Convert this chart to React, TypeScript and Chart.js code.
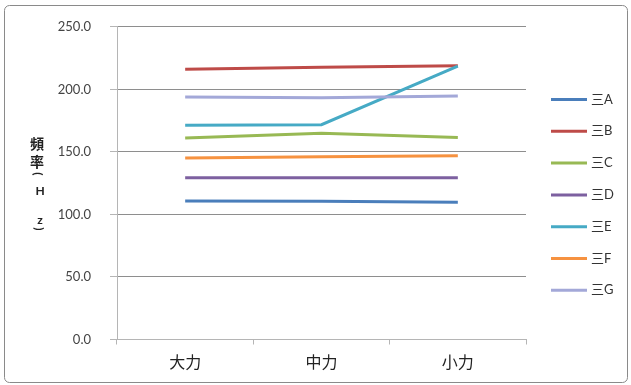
import React, { useEffect, useRef } from "react";
import { Chart, registerables } from "chart.js";

Chart.register(...registerables);

// Categories on the x axis
const categories = ["大力", "中力", "小力"];

// Series names and values (Hz)
const seriesNames = ["三A", "三B", "三C", "三D", "三E", "三F", "三G"];
const seriesA = [110.8, 110.5, 109.7];
const seriesB = [216.1, 217.7, 218.8];
const seriesC = [161.1, 164.8, 161.4];
const seriesD = [129.4, 129.4, 129.4];
const seriesE = [171.2, 171.7, 218.6];
const seriesF = [145.1, 146.2, 147.0];
const seriesG = [193.8, 193.3, 194.6];

// Value axis range
const yMin = 0;
const yMax = 250;
const yStep = 50;

// Vertical axis title, one glyph per line
const axisTitle = ["頻", "率", "(", "H", "z", ")"];

const seriesColors = ["#4A7EBB", "#BE4B48", "#98B954", "#7D60A0", "#46AAC5", "#F69240", "#A3A8D8"];

const W = 631;
const H = 385;

const framePlugin = {
  id: "frame",
  beforeDraw(chart: any) {
    const ctx = chart.ctx;
    ctx.save();
    ctx.fillStyle = "#ffffff";
    ctx.fillRect(0, 0, W, H);
    ctx.strokeStyle = "#8a8a8a";
    ctx.lineWidth = 1;
    ctx.beginPath();
    ctx.roundRect(4.5, 5.5, 623, 377, 5);
    ctx.stroke();
    ctx.restore();
  },
};

const axisTitlePlugin = {
  id: "stackedAxisTitle",
  afterDraw(chart: any) {
    const ctx = chart.ctx;
    const slots = [
      { y: 144, x: 37, rot: 0, cjk: true },
      { y: 162, x: 37, rot: 0, cjk: true },
      { y: 174, x: 38, rot: Math.PI / 2, cjk: false },
      { y: 191, x: 40, rot: 0, cjk: false },
      { y: 220, x: 40, rot: 0, cjk: false },
      { y: 229, x: 39, rot: Math.PI / 2, cjk: false },
    ];
    ctx.save();
    ctx.fillStyle = "#222";
    ctx.textAlign = "center";
    ctx.textBaseline = "middle";
    axisTitle.forEach((ch, i) => {
      const s = slots[i];
      ctx.font = s.cjk ? 'bold 14px "Noto Sans CJK TC"' : "bold 12px Lato";
      ctx.save();
      ctx.translate(s.x, s.y);
      ctx.rotate(s.rot);
      ctx.fillText(ch, 0, 0);
      ctx.restore();
    });
    ctx.restore();
  },
};

const legendPlugin = {
  id: "sideLegend",
  afterDraw(chart: any) {
    const ctx = chart.ctx;
    ctx.save();
    chart.data.datasets.forEach((ds: any, i: number) => {
      const y = 99.5 + i * 31.8;
      ctx.strokeStyle = ds.borderColor;
      ctx.lineWidth = 3;
      ctx.lineCap = "butt";
      ctx.beginPath();
      ctx.moveTo(551, y);
      ctx.lineTo(587, y);
      ctx.stroke();
      ctx.fillStyle = "#333";
      ctx.font = '13px Lato, "Noto Sans CJK TC"';
      ctx.textAlign = "left";
      ctx.textBaseline = "middle";
      ctx.fillText(ds.label, 591, y);
    });
    ctx.restore();
  },
};

export default function App() {
  const canvasRef = useRef<HTMLCanvasElement | null>(null);

  useEffect(() => {
    if (!canvasRef.current) return;
    const values = [seriesA, seriesB, seriesC, seriesD, seriesE, seriesF, seriesG];
    const chart = new Chart(canvasRef.current, {
      type: "line",
      data: {
        labels: categories,
        datasets: values.map((v, i) => ({
          label: seriesNames[i],
          data: v,
          borderColor: seriesColors[i],
          backgroundColor: seriesColors[i],
          borderWidth: 3,
          pointRadius: 0,
          pointHoverRadius: 0,
          tension: 0,
          fill: false,
          order: values.length - i,
        })),
      },
      options: {
        responsive: false,
        animation: false,
        events: [],
        layout: { padding: { left: 0, right: 105, top: 26, bottom: 0 } },
        plugins: {
          legend: { display: false },
          tooltip: { enabled: false },
          title: { display: false },
        },
        scales: {
          x: {
            offset: true,
            afterFit(scale: any) {
              scale.height = 45.5;
            },
            grid: {
              offset: true,
              drawOnChartArea: false,
              drawTicks: true,
              tickLength: 5,
              color: "#b5b5b5",
            },
            border: { display: true, color: "#b5b5b5", width: 1 },
            ticks: {
              padding: 8,
              color: "#222",
              font: { family: '"Noto Sans CJK TC"', size: 16 },
              maxRotation: 0,
            },
          },
          y: {
            min: yMin,
            max: yMax,
            afterFit(scale: any) {
              scale.width = 117;
            },
            grid: {
              color: (c: any) => (c.tick && c.tick.value === 0 ? "rgba(0,0,0,0)" : "#8e8e8e"),
              tickColor: "#b5b5b5",
              tickLength: 7,
              drawTicks: true,
            },
            border: { display: true, color: "#b5b5b5", width: 1 },
            ticks: {
              stepSize: yStep,
              padding: 19,
              color: "#444",
              font: { family: "Lato", size: 13 },
              callback: (v: any) => Number(v).toFixed(1),
            },
          },
        },
      },
      plugins: [framePlugin, axisTitlePlugin, legendPlugin],
    });
    return () => chart.destroy();
  }, []);

  return (
    <div style={{ position: "fixed", left: 0, top: 0, width: W, height: H, background: "#fff" }}>
      <canvas ref={canvasRef} width={W} height={H} style={{ display: "block", width: W, height: H }} />
    </div>
  );
}
